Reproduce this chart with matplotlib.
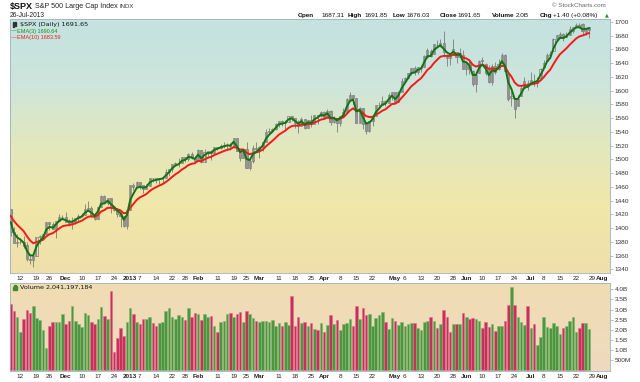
import numpy as np
import pandas as pd
import matplotlib
matplotlib.use("Agg")
import matplotlib.pyplot as plt
from matplotlib.colors import LinearSegmentedColormap
from matplotlib.patches import Rectangle

plt.rcParams['font.family'] = ['Liberation Sans', 'DejaVu Sans']

# trading days shown: 7-Nov-2012 .. 26-Jul-2013
holidays = ['2012-11-22', '2012-12-25', '2013-01-01', '2013-01-21',
            '2013-02-18', '2013-03-29', '2013-05-27', '2013-07-04']
dates = pd.bdate_range('2012-11-07', '2013-07-26', freq='C', holidays=holidays)

# closes before the first visible bar (only used to warm up the EMAs)
warm_close = [1444.49, 1445.75, 1450.99, 1461.40, 1460.93, 1455.88, 1441.48, 1432.56,
              1432.84, 1428.59, 1440.13, 1454.92, 1460.91, 1457.34, 1433.19, 1433.82,
              1413.11, 1408.75, 1412.97, 1411.94, 1412.16, 1427.59, 1414.20, 1417.26,
              1428.39]

opens = [1428.27, 1394.53, 1377.55, 1379.86, 1380.03, 1374.64, 1355.41, 1353.36, 1359.88, 1386.82,
         1387.79, 1391.03, 1409.15, 1406.29, 1398.77, 1409.96, 1415.95,
         1416.34, 1409.46, 1407.05, 1409.43, 1413.95, 1418.07, 1418.55, 1427.84, 1428.48, 1419.45,
         1413.54, 1430.47, 1446.79, 1435.81, 1443.67, 1430.15, 1426.66, 1419.83, 1418.10, 1402.43,
         1426.19, 1462.42, 1459.37, 1466.47, 1461.89, 1457.15, 1461.02, 1472.12, 1472.05, 1470.67,
         1472.33, 1472.63, 1480.95, 1485.98, 1492.56, 1494.81, 1494.82, 1502.96, 1500.18, 1507.84,
         1501.96,
         1498.11, 1513.17, 1495.71, 1511.29, 1512.12, 1509.39, 1517.93, 1517.01, 1519.43, 1520.33,
         1521.38, 1519.79, 1530.94, 1511.95, 1502.42, 1515.60, 1487.85, 1496.94, 1515.99,
         1514.68, 1518.20, 1525.20, 1539.79, 1541.46, 1544.26, 1551.15, 1556.22, 1552.48, 1554.52,
         1563.21, 1560.70, 1552.10, 1548.34, 1558.71, 1545.90, 1556.89, 1551.69, 1563.75, 1562.86,
         1569.18, 1562.17, 1570.25, 1553.69, 1559.98, 1553.26, 1563.11, 1568.61, 1587.73, 1593.30,
         1588.84, 1552.36, 1574.57, 1552.03, 1541.61, 1555.25, 1562.50, 1578.78, 1578.78, 1585.16,
         1582.34, 1593.58,
         1597.55, 1582.77, 1597.60, 1614.40, 1617.55, 1625.95, 1632.69, 1626.69, 1632.10, 1633.75,
         1649.13, 1658.07, 1652.45, 1665.71, 1666.20, 1669.39, 1646.67, 1646.67, 1652.63, 1656.57,
         1649.14, 1652.13,
         1631.71, 1640.73, 1629.05, 1609.29, 1625.27, 1644.67, 1638.64, 1629.94, 1612.15, 1635.52,
         1630.64, 1639.77, 1651.83, 1624.62, 1588.62, 1588.77, 1577.52, 1592.27, 1603.67, 1611.12,
         1609.78, 1614.29, 1611.48, 1618.65, 1634.20, 1642.89, 1651.56, 1657.41, 1675.26, 1679.59,
         1682.70, 1677.91, 1681.05, 1686.15, 1694.41, 1695.53, 1696.06, 1685.21, 1687.31]

highs = [1428.27, 1401.23, 1391.39, 1384.87, 1388.81, 1380.13, 1360.62, 1362.03, 1386.89, 1389.77,
         1391.25, 1409.16, 1409.15, 1409.01, 1410.31, 1419.70, 1418.86,
         1423.73, 1413.14, 1415.56, 1413.95, 1420.34, 1421.64, 1434.27, 1438.59, 1431.36, 1419.45,
         1430.67, 1448.00, 1447.75, 1443.70, 1443.67, 1430.15, 1429.42, 1422.80, 1418.10, 1426.74,
         1462.43, 1465.47, 1467.94, 1466.47, 1461.89, 1464.73, 1472.30, 1472.75, 1472.05, 1473.31,
         1473.96, 1485.16, 1485.98, 1492.56, 1496.13, 1502.27, 1503.26, 1503.23, 1509.35, 1509.94,
         1504.19,
         1514.41, 1513.17, 1514.96, 1512.53, 1512.90, 1518.31, 1518.31, 1522.29, 1524.69, 1523.14,
         1524.24, 1530.94, 1530.94, 1511.95, 1515.64, 1525.84, 1498.99, 1520.08, 1525.34,
         1519.99, 1525.27, 1543.47, 1545.25, 1545.78, 1552.48, 1556.27, 1556.77, 1556.39, 1563.32,
         1563.62, 1560.70, 1557.25, 1561.56, 1558.71, 1557.74, 1564.91, 1563.95, 1564.07, 1570.28,
         1570.57, 1573.66, 1571.47, 1562.60, 1559.98, 1563.07, 1573.89, 1589.07, 1597.35, 1593.30,
         1588.84, 1575.35, 1574.57, 1554.38, 1555.89, 1565.55, 1579.58, 1583.00, 1592.64, 1585.78,
         1596.65, 1597.57,
         1597.55, 1598.60, 1618.46, 1619.77, 1626.03, 1632.78, 1635.01, 1633.70, 1636.00, 1651.10,
         1661.49, 1660.51, 1667.47, 1672.84, 1674.93, 1687.18, 1653.36, 1649.78, 1674.21, 1656.57,
         1661.91, 1658.99,
         1640.42, 1646.53, 1629.31, 1622.56, 1644.40, 1648.69, 1640.13, 1637.71, 1639.25, 1640.80,
         1646.50, 1654.19, 1652.45, 1624.62, 1599.19, 1588.77, 1593.79, 1606.83, 1620.07, 1615.94,
         1626.61, 1624.26, 1618.97, 1632.07, 1644.68, 1654.18, 1657.92, 1676.63, 1680.19, 1684.51,
         1683.73, 1684.75, 1693.12, 1692.09, 1697.61, 1697.96, 1698.38, 1690.94, 1691.85]

lows = [1388.14, 1377.51, 1373.03, 1377.19, 1371.39, 1352.50, 1348.05, 1343.35, 1359.88, 1377.04,
        1386.39, 1391.03, 1397.68, 1398.03, 1385.43, 1409.04, 1411.63,
        1408.46, 1403.65, 1398.23, 1405.93, 1410.90, 1415.64, 1418.55, 1426.76, 1416.00, 1411.88,
        1413.54, 1430.47, 1435.80, 1432.82, 1422.58, 1424.66, 1416.43, 1401.80, 1401.58, 1398.11,
        1426.19, 1455.53, 1458.99, 1456.62, 1451.64, 1457.15, 1461.02, 1467.58, 1465.69, 1463.76,
        1467.60, 1472.63, 1475.81, 1481.16, 1489.90, 1489.46, 1494.82, 1496.33, 1498.09, 1500.11,
        1496.76,
        1498.11, 1495.02, 1495.71, 1504.71, 1498.49, 1509.39, 1513.61, 1515.61, 1515.93, 1514.02,
        1514.14, 1519.79, 1511.41, 1497.29, 1502.42, 1487.85, 1485.01, 1494.88, 1514.46,
        1501.48, 1512.29, 1525.20, 1538.11, 1541.46, 1542.94, 1547.36, 1548.24, 1544.37, 1554.52,
        1555.74, 1545.13, 1538.57, 1548.34, 1543.55, 1545.90, 1546.22, 1551.69, 1551.90, 1561.08,
        1558.47, 1562.17, 1549.80, 1552.52, 1539.50, 1548.63, 1560.92, 1568.61, 1586.17, 1579.97,
        1552.28, 1552.36, 1543.69, 1536.03, 1539.40, 1548.19, 1562.50, 1575.80, 1578.78, 1577.56,
        1582.34, 1586.50,
        1581.28, 1582.77, 1597.60, 1614.21, 1616.64, 1622.70, 1623.09, 1623.71, 1626.74, 1633.75,
        1646.68, 1648.60, 1652.45, 1663.52, 1662.67, 1648.86, 1635.53, 1636.88, 1652.63, 1640.05,
        1648.61, 1630.74,
        1622.72, 1623.62, 1607.09, 1598.23, 1625.27, 1639.26, 1622.92, 1610.92, 1608.07, 1623.96,
        1630.34, 1639.77, 1628.91, 1584.32, 1577.70, 1560.33, 1577.09, 1592.27, 1603.67, 1601.06,
        1609.78, 1606.77, 1604.57, 1614.71, 1634.20, 1642.89, 1647.66, 1657.41, 1672.33, 1677.89,
        1671.84, 1677.91, 1681.05, 1684.08, 1690.67, 1691.10, 1681.04, 1680.07, 1676.03]

closes = [1394.53, 1377.51, 1379.85, 1380.03, 1374.53, 1355.49, 1353.33, 1359.88, 1386.89, 1387.81,
          1391.03, 1409.15, 1406.29, 1398.94, 1409.93, 1415.95, 1416.18,
          1409.46, 1407.05, 1409.28, 1413.94, 1418.07, 1418.55, 1427.84, 1428.48, 1419.45, 1413.58,
          1430.36, 1446.79, 1435.81, 1443.69, 1430.15, 1426.66, 1419.83, 1418.10, 1402.43, 1426.19,
          1462.42, 1459.37, 1466.47, 1461.89, 1457.15, 1461.02, 1472.12, 1472.05, 1470.68, 1472.34,
          1472.63, 1480.94, 1485.98, 1492.56, 1494.81, 1494.82, 1502.96, 1500.18, 1507.84, 1501.96,
          1498.11,
          1513.17, 1495.71, 1511.29, 1512.12, 1509.39, 1517.93, 1517.01, 1519.43, 1520.33, 1521.38,
          1519.79, 1530.94, 1511.95, 1502.42, 1515.60, 1487.85, 1496.94, 1515.99, 1514.68,
          1518.20, 1525.20, 1539.79, 1541.46, 1544.26, 1551.18, 1556.22, 1552.48, 1554.52, 1563.23,
          1560.70, 1552.10, 1548.34, 1558.71, 1545.80, 1556.89, 1551.69, 1563.77, 1562.85, 1569.19,
          1562.17, 1570.25, 1553.69, 1559.98, 1553.28, 1563.07, 1568.61, 1587.73, 1593.37, 1588.85,
          1552.36, 1574.57, 1552.01, 1541.61, 1555.25, 1562.50, 1578.78, 1578.79, 1585.16, 1582.24,
          1593.61, 1597.57,
          1582.70, 1597.59, 1614.42, 1617.50, 1625.96, 1632.69, 1626.67, 1633.70, 1633.77, 1650.34,
          1658.78, 1650.47, 1667.47, 1666.29, 1669.16, 1655.35, 1650.51, 1649.60, 1660.06, 1648.36,
          1654.41, 1630.74,
          1640.42, 1631.38, 1608.90, 1622.56, 1643.38, 1642.81, 1626.13, 1612.52, 1636.36, 1626.73,
          1639.04, 1651.81, 1628.93, 1588.19, 1592.43, 1573.09, 1588.03, 1603.26, 1613.20, 1606.28,
          1614.96, 1614.08, 1615.41, 1631.89, 1640.46, 1652.32, 1652.62, 1675.02, 1680.19, 1682.50,
          1676.26, 1680.91, 1689.37, 1692.09, 1695.53, 1692.39, 1685.94, 1690.25, 1691.65]

# volume in billions of shares
volume = [3.27, 2.91, 2.64, 1.89, 2.55, 2.99, 2.81, 3.17, 2.57, 2.47,
          1.98, 1.08, 2.19, 2.39, 2.39, 2.39, 2.78,
          2.28, 2.45, 3.17, 2.43, 2.28, 2.13, 2.81, 2.74, 2.39, 2.30,
          2.51, 3.12, 2.67, 2.51, 3.92, 0.92, 1.57, 2.07, 1.69, 2.37,
          3.06, 2.78, 2.39, 2.30, 2.55, 2.55, 2.64, 2.33, 2.20, 2.35,
          2.39, 2.93, 3.07, 2.63, 2.53, 2.71, 2.63, 2.48, 3.06, 2.64,
          2.81,
          2.78, 2.48, 2.78, 2.63, 2.67, 2.20, 1.90, 2.39, 2.42, 2.78,
          2.81, 2.63, 2.78, 2.90, 2.39, 2.95, 2.78, 2.60, 2.45,
          2.39, 2.42, 2.44, 2.40, 2.48, 2.20, 2.36, 2.20, 2.40, 2.23,
          3.67, 2.20, 2.64, 2.35, 2.38, 2.20, 2.35, 2.04, 2.00, 2.35,
          1.87, 2.23, 2.71, 2.27, 2.46, 1.98, 2.27, 2.35, 2.51, 2.18,
          3.16, 2.51, 3.06, 2.73, 2.78, 2.20, 2.58, 2.71, 2.87, 2.38,
          2.02, 2.56,
          2.41, 2.23, 2.38, 2.18, 2.28, 2.35, 2.36, 2.08, 2.00, 2.38,
          2.41, 2.61, 2.45, 2.07, 2.30, 3.00, 2.63, 1.87, 2.28, 2.28,
          2.28, 2.81,
          2.64, 2.53, 2.56, 2.53, 2.43, 2.10, 2.38, 2.13, 2.27, 1.93,
          2.20, 2.17, 2.45, 3.22, 4.10, 3.22, 2.64, 2.38, 2.23, 3.17,
          2.10, 2.28, 1.24, 1.62, 2.64, 2.13, 2.10, 2.33, 2.18, 1.79,
          2.10, 2.18, 2.45, 2.61, 1.90, 2.07, 2.35, 2.36, 2.04]

tick_dates = ['2012-11-12', '2012-11-19', '2012-11-26', '2012-12-03', '2012-12-10', '2012-12-17',
              '2012-12-24', '2013-01-02', '2013-01-07', '2013-01-14', '2013-01-22', '2013-01-28',
              '2013-02-01', '2013-02-11', '2013-02-19', '2013-02-25', '2013-03-01', '2013-03-11',
              '2013-03-18', '2013-03-25', '2013-04-01', '2013-04-08', '2013-04-15', '2013-04-22',
              '2013-05-01', '2013-05-06', '2013-05-13', '2013-05-20', '2013-05-28', '2013-06-03',
              '2013-06-10', '2013-06-17', '2013-06-24', '2013-07-01', '2013-07-08', '2013-07-15',
              '2013-07-22', '2013-07-29', '2013-08-01']
tick_labels = ['12', '19', '26', 'Dec', '10', '17', '24', '2013', '7', '14', '22', '28',
               'Feb', '11', '19', '25', 'Mar', '11', '18', '25', 'Apr', '8', '15', '22',
               'May', '6', '13', '20', '28', 'Jun', '10', '17', '24', 'Jul', '8', '15',
               '22', '29', 'Aug']

# ---- derived series ----
x = np.arange(len(closes))
o = np.array(opens); h = np.array(highs); l = np.array(lows); c = np.array(closes)
full = pd.Series(warm_close + closes)
ema3 = full.ewm(span=3, adjust=False).mean().values[len(warm_close):]
ema10 = full.ewm(span=10, adjust=False).mean().values[len(warm_close):]
prev = np.concatenate([[warm_close[-1]], c[:-1]])
up = c >= prev

# tick positions: index of trading day (future days extend past the last bar)
all_days = pd.bdate_range('2012-11-07', '2013-08-09', freq='C', holidays=holidays)
tick_pos = [all_days.get_loc(pd.Timestamp(d)) for d in tick_dates]

W, H = 640, 382
fig = plt.figure(figsize=(W / 100, H / 100), dpi=100)
fig.patch.set_facecolor('white')

ax = fig.add_axes([10 / W, 1 - 273 / H, 600 / W, 254 / H])
axv = fig.add_axes([10 / W, 1 - 371 / H, 600 / W, 88.5 / H])

price_bg = LinearSegmentedColormap.from_list('pbg', ['#efdfab', '#f1e7a9', '#e3e8bd', '#cde5dc', '#c4e2df'])
vol_bg = LinearSegmentedColormap.from_list('vbg', ['#efd9bf', '#f0ddb2'])
grad = np.linspace(0, 1, 256).reshape(-1, 1)
ax.imshow(grad, cmap=price_bg, origin='lower', extent=[0, 1, 0, 1], transform=ax.transAxes,
          aspect='auto', zorder=0)
axv.imshow(grad, cmap=vol_bg, origin='lower', extent=[0, 1, 0, 1], transform=axv.transAxes,
           aspect='auto', zorder=0)

# candles
ax.vlines(x, l, h, color='#7c7c7c', lw=0.6, zorder=2)
body_bot = np.minimum(o, c)
body_h = np.maximum(np.abs(c - o), 0.4)
ax.bar(x, body_h, bottom=body_bot, width=0.65,
       color=np.where(c >= o, 'none', '#959595'), edgecolor='#7c7c7c', lw=0.5, zorder=2)

ax.plot(x, ema10, color='#f41a1a', lw=1.4, zorder=3)
ax.plot(x, ema3, color='#137313', lw=1.4, zorder=4)

ax.set_xlim(-0.2, 185.5)
ax.set_ylim(1334.6, 1704)

# volume
axv.bar(x, volume, width=0.8, color=np.where(up, '#4f9442', '#c4325a'),
        edgecolor=np.where(up, '#80bb6c', '#e0708e'), lw=0.4, zorder=2)
axv.set_xlim(-0.2, 185.5)
axv.set_ylim(-0.04, 4.34)

for a in (ax, axv):
    a.yaxis.tick_right()
    a.tick_params(axis='y', labelsize=4.6, length=2, width=0.5, color='#9aa8b8',
                  labelcolor='#333333', pad=1.5)
    a.tick_params(axis='x', labelsize=4.6, length=0, pad=5.0, labelcolor='#222222')
    a.set_xticks(tick_pos)
    a.set_xticklabels(tick_labels)
    for t in a.get_xticklabels():
        t.set_verticalalignment('baseline')
        if not t.get_text().isdigit() or t.get_text() == '2013':
            t.set_fontweight('bold')
    for s in a.spines.values():
        s.set_color('#9fb0c2')
        s.set_linewidth(0.6)
        s.set_linestyle((0, (1, 1)))

ax.set_yticks(np.arange(1340, 1701, 20))
vol_ticks = [0.5, 1.0, 1.5, 2.0, 2.5, 3.0, 3.5, 4.0]
vol_labels = ['500M', '1.0B', '1.5B', '2.0B', '2.5B', '3.0B', '3.5B', '4.0B']
axv.set_yticks(vol_ticks)
axv.set_yticklabels(vol_labels)


def ft(px, py, s, **kw):
    fig.text(px / W, 1 - py / H, s, va='center', **kw)


# header
ft(10, 6, '$SPX', fontsize=6.5, fontweight='bold', color='#111111')
ft(35, 6, 'S&P 500 Large Cap Index', fontsize=5.1, color='#222222')
ft(120, 6, 'INDX', fontsize=4.3, color='#333333')
ft(10, 15.5, '26-Jul-2013', fontsize=4.8, color='#222222')
ft(552, 5.5, '\u00a9 StockCharts.com', fontsize=4.5, color='#666666')
hdr = [(298, 'Open', True), (321, '1687.31', False), (348, 'High', True), (364, '1691.85', False),
       (393, 'Low', True), (406, '1676.03', False), (440, 'Close', True), (457, '1691.65', False),
       (492, 'Volume', True), (516, '2.0B', False), (540, 'Chg', True), (553, '+1.40 (+0.08%)', False)]
for px, s, b in hdr:
    ft(px, 15.5, s, fontsize=4.6, fontweight='bold' if b else 'normal', color='#111111')
ft(605, 15, '\u25b2', fontsize=3.5, color='#2a8a2a', family='DejaVu Sans')

# legends inside panels
fig.add_artist(Rectangle((12.5 / W, 1 - 27 / H), 1.2 / W, 5 / H, color='#333333', transform=fig.transFigure))
fig.add_artist(Rectangle((15 / W, 1 - 26 / H), 1.2 / W, 4 / H, color='#333333', transform=fig.transFigure))
ft(20, 24.5, '$SPX (Daily) 1691.65', fontsize=4.6, color='#111111', family='DejaVu Sans')
ft(11, 31, '\u2014', fontsize=4.2, color='#1c8a1c', family='DejaVu Sans')
ft(17, 31, 'EMA(3) 1690.64', fontsize=4.0, color='#1c8a1c')
ft(11, 37.5, '\u2014', fontsize=4.2, color='#e82020', family='DejaVu Sans')
ft(17, 37.5, 'EMA(10) 1683.59', fontsize=4.0, color='#e82020')

for i, hh in enumerate([3, 5, 4]):
    fig.add_artist(Rectangle(((12.5 + i * 1.8) / W, 1 - 290 / H), 1.3 / W, hh / H,
                             color='#3f8a33', transform=fig.transFigure))
ft(20, 287.5, 'Volume 2,041,197,184', fontsize=4.6, color='#111111', family='DejaVu Sans')

fig.savefig('out.png', dpi=100)
